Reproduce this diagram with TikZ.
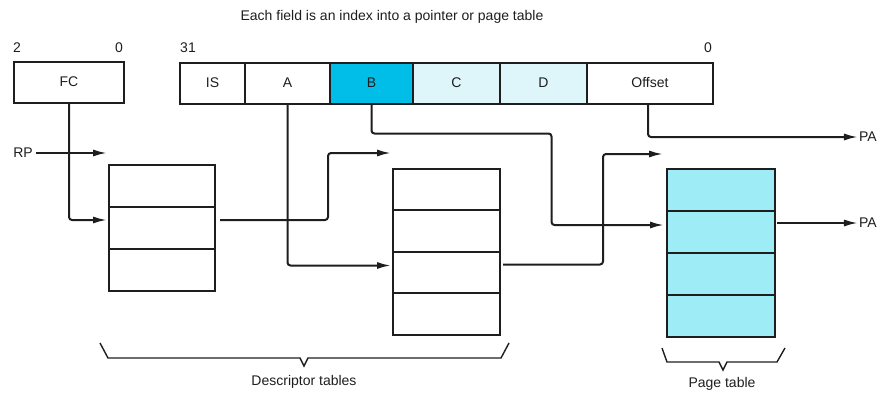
\documentclass[tikz,border=0pt]{standalone}
\usepackage{fontspec}
\setmainfont{Liberation Sans}
\usepackage{tikz}
\usetikzlibrary{arrows.meta, positioning}

\definecolor{fieldB}{RGB}{0,190,232}
\definecolor{fieldCD}{RGB}{222,246,250}
\definecolor{pagecol}{RGB}{158,236,246}
\definecolor{ink}{RGB}{30,30,30}

\begin{document}
\begin{tikzpicture}[x=1pt,y=-1pt,color=ink]

\tikzset{field/.style = {draw, line width=2pt, minimum height=41pt, inner sep=0pt, outer sep=0pt, font=\fontsize{14}{16}\selectfont}}
\tikzset{cell/.style = {draw, line width=2pt, minimum width=107pt, minimum height=41.5pt, inner sep=0pt, outer sep=0pt}}
\tikzset{link/.style = {line width=2pt, rounded corners=3pt, -{Latex[length=14pt,width=7pt]}}}
\tikzset{lbl/.style = {font=\fontsize{14}{16}\selectfont, inner sep=1pt}}
\tikzset{bracket/.style = {line width=1.4pt}}

\useasboundingbox (0,0) rectangle (889,394);

% address fields
\node[field, minimum width=110pt] (fc) at (69,82) {FC};
\node[field, minimum width=65pt] (is) at (212.5,83) {IS};
\node[field, minimum width=85pt] (a) at (287.5,83) {A};
\node[field, minimum width=83pt, fill=fieldB] (b) at (371.5,83) {B};
\node[field, minimum width=87pt, fill=fieldCD] (c) at (456.5,83) {C};
\node[field, minimum width=87pt, fill=fieldCD] (d) at (543.5,83) {D};
\node[field, minimum width=126pt] (off) at (650,83) {Offset};

% bit numbers and labels
\node[lbl] (title) at (392,17) {Each field is an index into a pointer or page table};
\node[lbl] (fchi) at (17,48) {2};
\node[lbl] (fclo) at (119,48) {0};
\node[lbl] (reghi) at (188,48) {31};
\node[lbl] (reglo) at (708,48) {0};
\node[lbl] (rp) at (23,153) {RP};
\node[lbl] (pa1) at (868,137) {PA};
\node[lbl] (pa2) at (868,223) {PA};

% descriptor tables
\node[cell, minimum width=106pt, minimum height=42pt] (t1a) at (162,186) {};
\node[cell, minimum width=106pt, minimum height=42pt, below=0pt of t1a] (t1b) {};
\node[cell, minimum width=106pt, minimum height=42pt, below=0pt of t1b] (t1c) {};

\node[cell] (t2a) at (446.5,189.5) {};
\node[cell, below=0pt of t2a] (t2b) {};
\node[cell, below=0pt of t2b] (t2c) {};
\node[cell, below=0pt of t2c] (t2d) {};

% page table
\node[cell, fill=pagecol, minimum width=108pt, minimum height=42pt] (pta) at (721,190) {};
\node[cell, fill=pagecol, minimum width=108pt, minimum height=42pt, below=0pt of pta] (ptb) {};
\node[cell, fill=pagecol, minimum width=108pt, minimum height=42pt, below=0pt of ptb] (ptc) {};
\node[cell, fill=pagecol, minimum width=108pt, minimum height=42pt, below=0pt of ptc] (ptd) {};

% free ends
\coordinate (t1top) at (107,153);
\coordinate (t2top) at (391,153);
\coordinate (pttop) at (663,154);

%edges
\draw[link] ([xshift=2pt]rp.east) -- (t1top);
\draw[link] (fc.south) |- ([xshift=-2pt,yshift=8pt]t1b.west);
\draw[link] ([xshift=5pt,yshift=8pt]t1b.east) -- ++(108,0) |- (t2top);
\draw[link] (a.south) |- ([xshift=-2pt,yshift=7pt]t2c.west);
\draw[link] ([xshift=3pt,yshift=8pt]t2c.east) -- ++(100,0) |- (pttop);
\draw[link] (b.south) -- ++(0,30) -- ++(180,0) |- ([xshift=-3pt,yshift=7pt]ptb.west);
\draw[link] ([xshift=-2pt]off.south) |- (pa1.west);
\draw[link] ([xshift=2pt,yshift=9pt]ptb.east) -- (pa2.west);

% braces
\draw[bracket] (100,343) -- (108,358) -- (300,358) -- (304,366) -- (308,358) -- (501,358) -- (509,343);
\draw[bracket] (662,348) -- (667,362) -- (719,362) -- (723,370) -- (727,362) -- (777,362) -- (785,348);
\node[lbl] (desc) at (304,382) {Descriptor tables};
\node[lbl] (ptlbl) at (722,384) {Page table};

\end{tikzpicture}
\end{document}
